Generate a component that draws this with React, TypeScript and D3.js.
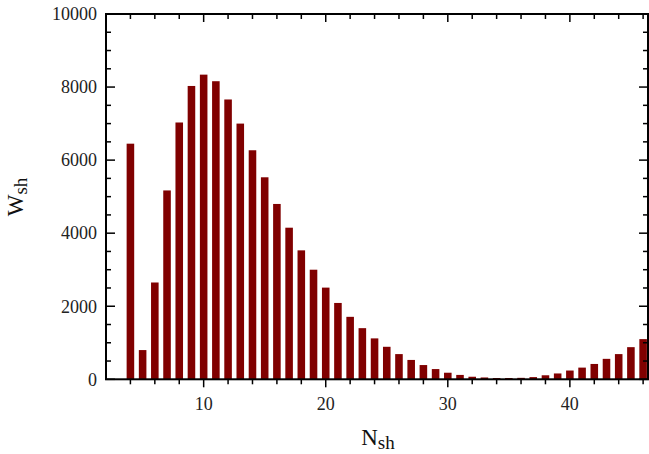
import React from "react";
import * as d3 from "d3";

const nValues = [4,5,6,7,8,9,10,11,12,13,14,15,16,17,18,19,20,21,22,23,24,25,26,27,28,29,30,31,32,33,34,35,36,37,38,39,40,41,42,43,44,45,46];
const wValues = [6450,800,2650,5170,7030,8030,8340,8160,7660,7000,6270,5530,4800,4150,3530,3000,2510,2090,1710,1400,1120,890,690,530,390,280,180,120,70,50,35,35,40,60,110,160,240,320,420,560,690,880,1100];
const yTickLabels = [0,2000,4000,6000,8000,10000];
const xTickLabels = [10,20,30,40];

const W = 649, H = 454;
const L = 106, R = 648, T = 14, B = 379.3;

export default function App() {
  const x = d3.scaleLinear().domain([2, 46.4]).range([L, R]);
  const y = d3.scaleLinear().domain([0, 10000]).range([B, T]);
  const barW = x(2.62) - x(2);
  const xMinor = d3.range(4, 47, 2);
  const yMinor = d3.range(0, 10001, 500);
  const font = "'Liberation Serif', 'Times New Roman', serif";
  return (
    <svg width={W} height={H} style={{ position: "absolute", left: 0, top: 0, background: "#fff" }}>
      <g>
        {nValues.map((n, i) => (
          <rect key={n} x={x(n) - barW / 2} y={y(wValues[i])} width={barW} height={B - y(wValues[i])} fill="#800000" />
        ))}
      </g>
      <g stroke="#000" strokeWidth={1.5}>
        {xMinor.map((v) => {
          const major = v % 10 === 0;
          const len = major ? 8 : 5;
          return (
            <g key={"x" + v}>
              <line x1={x(v)} x2={x(v)} y1={B} y2={B + len} />
              <line x1={x(v)} x2={x(v)} y1={T} y2={T + len} />
            </g>
          );
        })}
        {yMinor.map((v) => {
          const major = v % 2000 === 0;
          const len = major ? 9 : 5;
          return (
            <g key={"y" + v}>
              <line x1={L} x2={L + len} y1={y(v)} y2={y(v)} />
              <line x1={R} x2={R - len} y1={y(v)} y2={y(v)} />
            </g>
          );
        })}
      </g>
      <rect x={L} y={T} width={R - L} height={B - T} fill="none" stroke="#000" strokeWidth={2} />
      <g fontFamily={font} fontSize={18} fill="#222">
        {yTickLabels.map((v) => (
          <text key={v} x={97} y={y(v)} dy="0.35em" textAnchor="end">{v}</text>
        ))}
        {xTickLabels.map((v) => (
          <text key={v} x={x(v)} y={410} textAnchor="middle">{v}</text>
        ))}
      </g>
      <text x={378} y={445} fontFamily={font} fontSize={23} textAnchor="middle" fill="#111">
        N<tspan fontSize={19} dy={4}>sh</tspan>
      </text>
      <text transform="translate(23,197) rotate(-90)" fontFamily={font} fontSize={23} textAnchor="middle" fill="#111">
        W<tspan fontSize={19} dy={4}>sh</tspan>
      </text>
    </svg>
  );
}
